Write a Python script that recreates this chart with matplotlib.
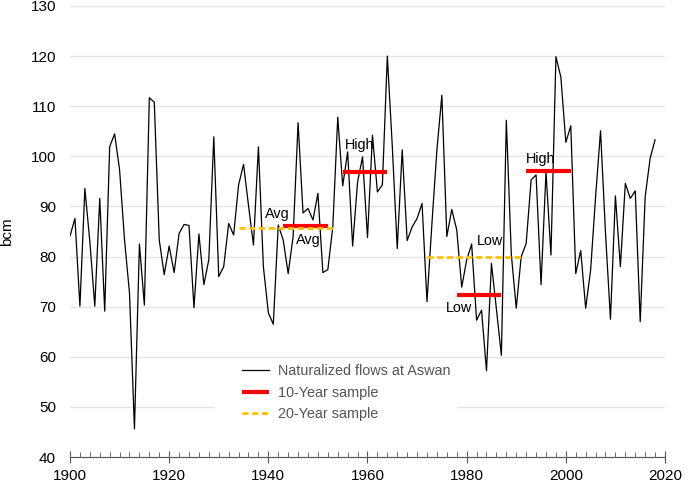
import matplotlib.pyplot as plt
from matplotlib.ticker import MultipleLocator
from matplotlib.patches import Rectangle

plt.rcParams['font.family'] = ['Liberation Sans', 'DejaVu Sans']

# naturalized annual flows at Aswan (bcm), 1900-2018
years = list(range(1900, 2019))
flows = [
    84.1, 87.6, 70.1, 93.6, 83.0, 70.1, 91.6, 69.1, 101.9, 104.5,   # 1900s
    97.3, 83.3, 72.7, 45.6, 82.5, 70.3, 111.7, 110.8, 83.3, 76.4,   # 1910s
    82.1, 76.8, 84.6, 86.4, 86.2, 69.8, 84.5, 74.4, 79.4, 103.9,    # 1920s
    76.0, 78.0, 86.6, 84.3, 94.3, 98.4, 90.2, 82.3, 101.9, 78.0,    # 1930s
    68.8, 66.5, 86.3, 83.3, 76.6, 84.0, 106.7, 88.7, 89.6, 87.3,    # 1940s
    92.6, 76.8, 77.4, 85.9, 107.8, 94.1, 100.9, 82.1, 94.9, 99.9,   # 1950s
    83.8, 104.2, 92.9, 94.3, 120.0, 102.0, 81.6, 101.3, 83.2, 85.9, # 1960s
    87.6, 90.6, 71.0, 86.7, 101.3, 112.2, 84.0, 89.4, 85.3, 73.9,   # 1970s
    79.3, 82.5, 67.3, 69.3, 57.2, 78.6, 69.5, 60.3, 107.2, 80.5,    # 1980s
    69.7, 80.0, 82.6, 95.3, 96.3, 74.4, 96.9, 80.3, 119.9, 115.8,   # 1990s
    102.8, 106.1, 76.6, 81.2, 69.7, 77.3, 91.9, 105.1, 84.7, 67.5,  # 2000s
    92.1, 78.0, 94.6, 91.6, 93.1, 67.0, 91.9, 99.6, 103.3,          # 2010s
]

# sample means: (start, end, value)
ten_year = [(1943, 1952, 86.1), (1955, 1964, 96.9), (1978, 1987, 72.3), (1992, 2001, 97.1)]
twenty_year = [(1934, 1953, 85.6), (1972, 1991, 80.0)]

fig = plt.figure(figsize=(6.85, 4.86), dpi=100)
ax = fig.add_axes([70 / 685, 1 - 457 / 486, 595 / 685, 451 / 486])

ax.plot(years, flows, color='black', lw=0.9, label='Naturalized flows at Aswan', zorder=3)
for i, (s, e, v) in enumerate(ten_year):
    ax.plot([s, e], [v, v], color='#ff0000', lw=3, solid_capstyle='butt', zorder=4,
            label='10-Year sample' if i == 0 else None)
for i, (s, e, v) in enumerate(twenty_year):
    ax.plot([s, e], [v, v], color='#ffc000', lw=2, ls=(0, (2.2, 1.3)), zorder=4,
            label='20-Year sample' if i == 0 else None)

ax.text(1939.3, 88.4, 'Avg', fontsize=10.4, ha='left', va='center')
ax.text(1945.5, 83.4, 'Avg', fontsize=10.4, ha='left', va='center')
ax.text(1955.5, 102.3, 'High', fontsize=10.4, ha='left', va='center')
ax.text(1991.9, 99.4, 'High', fontsize=10.4, ha='left', va='center')
ax.text(1982.1, 83.1, 'Low', fontsize=10.4, ha='left', va='center')
ax.text(1975.9, 69.8, 'Low', fontsize=10.4, ha='left', va='center')

ax.set_xlim(1900, 2020)
ax.set_ylim(40, 130)
ax.set_xticks(range(1900, 2021, 20))
ax.xaxis.set_minor_locator(MultipleLocator(2))
ax.set_yticks(range(40, 131, 10))
ax.grid(axis='y', color='#e4e4e4', lw=1)
ax.set_axisbelow(True)

for sp in ['top', 'right', 'left']:
    ax.spines[sp].set_visible(False)
ax.spines['bottom'].set_color('#555555')
ax.tick_params(axis='y', length=0, pad=10, labelsize=11)
ax.tick_params(axis='x', which='major', direction='inout', length=9, color='#555555',
               pad=4, labelsize=11)
ax.tick_params(axis='x', which='minor', direction='in', length=3.5, color='#555555')
ax.set_ylabel('bcm', fontsize=11, labelpad=12)

# white backdrop behind the legend (hides the gridline there)
ax.add_patch(Rectangle((0.2437, 0.06), 0.4063, 0.16, transform=ax.transAxes,
                       facecolor='white', edgecolor='none', zorder=1))

leg = ax.legend(loc='upper left', bbox_to_anchor=(0.2886, 0.2063), fontsize=10.4,
                frameon=False, handlelength=1.92, handletextpad=0.62,
                labelspacing=0.53, borderpad=0, borderaxespad=0)
for t in leg.get_texts():
    t.set_color('#555555')

fig.savefig('out.png', dpi=100)
